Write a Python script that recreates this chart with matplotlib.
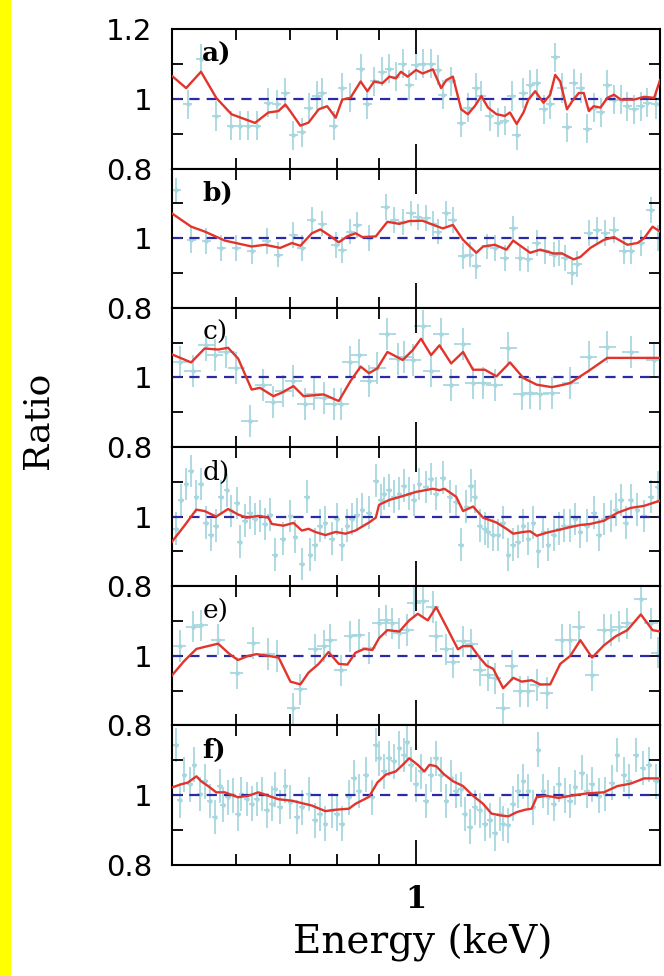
#Ratio panels a) to f)
import matplotlib
matplotlib.use("Agg")
import matplotlib.pyplot as plt
from matplotlib.ticker import NullFormatter
from matplotlib.patches import Rectangle

# ---- panel a ----
a_model_e = [0.50, 0.5205, 0.543, 0.567, 0.592, 0.633, 0.6575, 0.6765, 0.690, 0.6995,
             0.720, 0.737, 0.7585, 0.777, 0.796, 0.811, 0.830, 0.8545, 0.871, 0.888,
             0.909, 0.927, 0.944, 0.958, 0.9765, 1.0, 1.019, 1.049, 1.074, 1.090,
             1.1105, 1.137, 1.159, 1.1815, 1.204, 1.227, 1.257, 1.287, 1.306, 1.331,
             1.357, 1.376, 1.403, 1.4365, 1.464, 1.485, 1.5065, 1.5355, 1.558, 1.588,
             1.6105, 1.634, 1.657, 1.689, 1.722, 1.755, 1.789, 1.858, 1.912, 1.967, 2.0]
a_model_r = [1.066, 1.031, 1.078, 1.003, 0.956, 0.931, 0.961, 0.965, 0.984, 0.965,
             0.923, 0.932, 0.970, 0.979, 0.946, 0.998, 1.003, 1.050, 1.022, 1.050,
             1.045, 1.064, 1.059, 1.078, 1.064, 1.083, 1.073, 1.085, 1.031, 1.054,
             1.064, 0.970, 0.956, 0.979, 1.008, 0.975, 0.956, 0.951, 0.961, 0.928,
             0.961, 0.998, 1.022, 0.989, 1.012, 1.069, 1.050, 0.970, 0.993, 1.017,
             1.017, 0.965, 0.979, 0.975, 1.003, 1.012, 0.998, 0.998, 1.006, 1.003, 1.054]
a_data_e = [0.523, 0.543, 0.567, 0.592, 0.606, 0.621, 0.636, 0.6575, 0.673, 0.690,
            0.706, 0.723, 0.737, 0.755, 0.766, 0.792, 0.811, 0.830, 0.8545, 0.871,
            0.888, 0.909, 0.927, 0.944, 0.963, 0.981, 1.0, 1.019, 1.044, 1.064,
            1.079, 1.105, 1.137, 1.159, 1.187, 1.204, 1.233, 1.263, 1.287, 1.312,
            1.331, 1.357, 1.383, 1.409, 1.4365, 1.464, 1.485, 1.514, 1.5355, 1.565,
            1.596, 1.626, 1.657, 1.689, 1.722, 1.755, 1.789, 1.823, 1.858, 1.894,
            1.930, 1.977]
a_data_r = [0.984, 1.115, 0.951, 0.923, 0.923, 0.923, 0.923, 0.989, 0.984, 1.017,
            0.895, 0.904, 0.975, 1.008, 1.017, 0.923, 1.031, 1.003, 1.087, 0.984,
            1.050, 1.078, 1.087, 1.064, 1.101, 1.040, 1.097, 1.101, 1.101, 1.083,
            1.012, 1.050, 0.932, 0.975, 1.031, 1.008, 0.951, 0.932, 0.937, 1.008,
            0.895, 1.017, 1.040, 1.045, 0.970, 0.984, 1.120, 1.031, 0.918, 1.045,
            1.031, 0.914, 0.975, 0.961, 1.040, 0.998, 0.998, 0.979, 0.970, 0.979,
            0.989, 0.984]
a_err = 0.042
a_bin = 0.013

# ---- panel b ----
b_model_e = [0.50, 0.528, 0.5486, 0.581, 0.627, 0.651, 0.680, 0.703, 0.720, 0.744,
             0.762, 0.7805, 0.803, 0.8225, 0.8424, 0.8586, 0.892, 0.922, 0.9535, 0.981,
             1.019, 1.059, 1.079, 1.1105, 1.143, 1.187, 1.210, 1.251, 1.293, 1.318,
             1.383, 1.423, 1.478, 1.514, 1.565, 1.595, 1.641, 1.705, 1.755, 1.823,
             1.876, 1.912, 1.958, 2.0]
b_model_r = [1.071, 1.033, 1.019, 0.993, 0.976, 0.981, 0.972, 0.986, 0.978, 1.014,
             1.025, 1.009, 0.988, 1.005, 1.014, 1.003, 1.005, 1.047, 1.041, 1.049,
             1.050, 1.035, 1.028, 1.038, 0.995, 0.958, 0.976, 0.981, 0.967, 0.993,
             0.958, 0.967, 0.956, 0.956, 0.939, 0.946, 0.972, 0.995, 1.003, 0.981,
             0.986, 1.0, 1.033, 1.019]
b_data_e = [0.506, 0.528, 0.551, 0.575, 0.6005, 0.627, 0.654, 0.6765, 0.706, 0.723,
            0.744, 0.766, 0.796, 0.811, 0.830, 0.846, 0.875, 0.918, 0.940, 0.963,
            0.986, 1.005, 1.029, 1.049, 1.064, 1.090, 1.1105, 1.143, 1.165, 1.187,
            1.222, 1.251, 1.287, 1.318, 1.344, 1.376, 1.409, 1.443, 1.478, 1.499,
            1.528, 1.558, 1.580, 1.634, 1.673, 1.713, 1.755, 1.806, 1.840, 1.894,
            1.949, 1.99]
b_data_r = [1.137, 0.995, 0.991, 0.972, 0.972, 0.962, 0.991, 0.953, 1.009, 0.972,
            1.052, 1.042, 0.981, 0.967, 1.019, 1.038, 1.0, 1.090, 1.052, 1.047,
            1.071, 1.061, 1.057, 1.042, 1.019, 1.071, 1.052, 0.948, 0.953, 0.920,
            0.976, 0.972, 0.943, 1.028, 0.943, 0.939, 0.986, 0.962, 0.953, 0.958,
            0.943, 0.901, 0.925, 1.014, 1.024, 1.014, 1.024, 0.962, 0.962, 0.986,
            1.080, 1.0]
b_err = 0.037
b_bin = 0.013

# ---- panel c ----
c_model_e = [0.50, 0.528, 0.5486, 0.570, 0.5864, 0.6034, 0.627, 0.642, 0.667, 0.683,
             0.706, 0.7267, 0.7513, 0.7694, 0.803, 0.830, 0.8545, 0.875, 0.896, 0.922,
             0.963, 0.9905, 1.0144, 1.0438, 1.069, 1.105, 1.143, 1.176, 1.216, 1.257,
             1.306, 1.357, 1.409, 1.471, 1.521, 1.550, 1.641, 1.722, 2.0]
c_model_r = [1.066, 1.043, 1.083, 1.080, 1.085, 1.054, 0.965, 0.970, 0.946, 0.956,
             0.975, 0.946, 0.949, 0.951, 0.932, 0.989, 1.031, 1.012, 1.026, 1.073,
             1.050, 1.078, 1.111, 1.064, 1.092, 1.040, 1.073, 1.022, 1.022, 1.003,
             1.043, 0.998, 0.979, 0.972, 0.979, 0.984, 1.022, 1.056, 1.056]
c_data_e = [0.511, 0.5306, 0.551, 0.5645, 0.5836, 0.6005, 0.624, 0.648, 0.667, 0.686,
            0.706, 0.730, 0.748, 0.769, 0.792, 0.807, 0.830, 0.850, 0.875, 0.896,
            0.922, 0.949, 0.967, 0.9905, 1.019, 1.044, 1.074, 1.105, 1.143, 1.176,
            1.210, 1.251, 1.300, 1.350, 1.383, 1.423, 1.471, 1.550, 1.634, 1.722,
            1.840, 1.967]
c_data_r = [1.045, 1.017, 1.092, 1.064, 1.073, 1.026, 0.876, 0.979, 0.928, 0.961,
            0.989, 0.923, 0.951, 0.942, 0.923, 0.923, 1.045, 1.064, 0.989, 1.026,
            1.125, 1.054, 1.059, 1.050, 1.148, 1.017, 1.125, 0.979, 1.097, 0.984,
            0.984, 0.979, 1.083, 0.951, 0.956, 0.951, 0.956, 0.984, 1.059, 1.087,
            1.073, 1.050]
c_err = 0.046
c_bin = 0.024

# ---- panel d ----
d_model_e = [0.50, 0.518, 0.5357, 0.5486, 0.567, 0.5864, 0.6034, 0.618, 0.639, 0.6575,
             0.664, 0.686, 0.706, 0.723, 0.737, 0.751, 0.773, 0.796, 0.8186, 0.842,
             0.875, 0.892, 0.9005, 0.927, 0.963, 1.0, 1.049, 1.069, 1.0844, 1.121,
             1.143, 1.176, 1.210, 1.257, 1.293, 1.318, 1.357, 1.383, 1.409, 1.450,
             1.5065, 1.550, 1.595, 1.641, 1.705, 1.772, 1.840, 1.912, 2.0]
d_model_r = [0.928, 0.974, 1.020, 1.016, 1.0, 1.022, 1.006, 0.997, 1.002, 0.997,
             0.979, 0.974, 0.982, 0.960, 0.965, 0.956, 0.947, 0.956, 0.951, 0.960,
             0.983, 0.997, 1.034, 1.048, 1.059, 1.071, 1.080, 1.076, 1.080, 1.057,
             1.016, 1.029, 0.997, 0.983, 0.965, 0.951, 0.956, 0.958, 0.945, 0.954,
             0.963, 0.970, 0.976, 0.979, 0.988, 1.011, 1.025, 1.031, 1.046]
d_data_e = [0.506, 0.513, 0.521, 0.528, 0.536, 0.543, 0.551, 0.559, 0.567, 0.575,
            0.584, 0.592, 0.601, 0.606, 0.615, 0.624, 0.633, 0.642, 0.651, 0.661,
            0.670, 0.686, 0.700, 0.710, 0.723, 0.734, 0.741, 0.751, 0.762, 0.773,
            0.788, 0.799, 0.811, 0.823, 0.834, 0.846, 0.859, 0.875, 0.892, 0.905,
            0.913, 0.927, 0.940, 0.954, 0.967, 0.981, 0.995, 1.010, 1.029, 1.044,
            1.059, 1.079, 1.100, 1.121, 1.137, 1.154, 1.170, 1.181, 1.198, 1.216,
            1.227, 1.245, 1.263, 1.281, 1.300, 1.318, 1.337, 1.357, 1.376, 1.396,
            1.416, 1.436, 1.457, 1.478, 1.499, 1.521, 1.550, 1.573, 1.595, 1.626,
            1.657, 1.681, 1.705, 1.738, 1.763, 1.789, 1.814, 1.840, 1.876, 1.912,
            1.949, 1.986]
d_data_r = [0.965, 1.048, 1.094, 1.131, 1.057, 1.094, 0.983, 0.947, 0.974, 1.057,
            1.076, 1.016, 1.039, 0.928, 0.988, 1.011, 0.993, 1.002, 0.979, 1.006,
            0.891, 0.937, 1.002, 0.942, 0.864, 1.057, 0.891, 0.919, 0.974, 0.983,
            0.937, 0.993, 0.919, 0.974, 0.993, 1.006, 1.020, 1.011, 1.103, 1.048,
            1.066, 1.076, 1.057, 1.066, 1.089, 1.066, 1.048, 1.094, 1.085, 1.108,
            1.066, 1.112, 1.057, 1.043, 0.919, 1.029, 1.089, 1.057, 0.974, 0.965,
            0.956, 0.947, 0.947, 0.983, 0.891, 0.919, 0.928, 0.974, 0.937, 0.983,
            0.900, 0.956, 0.919, 0.947, 0.965, 0.974, 0.974, 0.993, 0.956, 0.974,
            1.011, 0.947, 0.993, 1.002, 1.020, 1.048, 0.983, 1.048, 1.020, 1.002,
            1.057, 1.085]
d_err = 0.047
d_bin = 0.008

# ---- panel e ----
e_model_e = [0.50, 0.518, 0.536, 0.549, 0.570, 0.589, 0.603, 0.621, 0.636, 0.6575,
             0.677, 0.700, 0.720, 0.737, 0.7585, 0.780, 0.803, 0.823, 0.842, 0.863,
             0.8835, 0.9005, 0.922, 0.954, 0.981, 1.005, 1.034, 1.059, 1.090, 1.1265,
             1.143, 1.170, 1.198, 1.222, 1.245, 1.281, 1.318, 1.350, 1.389, 1.423,
             1.464, 1.5065, 1.550, 1.595, 1.649, 1.705, 1.763, 1.823, 1.894, 1.958, 2.0]
e_model_r = [0.944, 0.986, 1.020, 1.026, 1.035, 1.005, 0.988, 1.0, 1.005, 1.0,
             0.995, 0.926, 0.918, 0.952, 0.977, 1.011, 0.977, 0.975, 1.009, 1.020,
             1.017, 1.051, 1.074, 1.070, 1.102, 1.121, 1.102, 1.140, 1.084, 1.019,
             1.028, 1.028, 0.995, 0.972, 0.963, 0.907, 0.937, 0.926, 0.930, 0.918,
             0.918, 0.977, 1.0, 1.045, 0.995, 1.030, 1.056, 1.074, 1.119, 1.074, 1.070]
e_data_e = [0.511, 0.531, 0.543, 0.570, 0.601, 0.630, 0.6575, 0.673, 0.706, 0.720,
            0.751, 0.769, 0.784, 0.807, 0.830, 0.850, 0.875, 0.9005, 0.918, 0.935,
            0.954, 0.976, 0.995, 1.019, 1.049, 1.059, 1.090, 1.1105, 1.143, 1.170,
            1.198, 1.227, 1.251, 1.281, 1.312, 1.344, 1.376, 1.409, 1.450, 1.514,
            1.550, 1.588, 1.649, 1.705, 1.738, 1.780, 1.823, 1.894, 1.949, 1.986]
e_data_r = [1.028, 1.084, 1.088, 1.047, 0.951, 1.037, 1.005, 1.0, 0.849, 0.904,
            1.019, 1.028, 1.047, 0.958, 1.056, 1.060, 1.023, 1.093, 1.102, 1.093,
            1.065, 1.074, 1.153, 1.158, 1.140, 1.056, 1.019, 0.981, 1.042, 1.033,
            0.958, 0.944, 0.935, 0.849, 0.972, 0.898, 0.898, 0.916, 0.893, 1.047,
            1.047, 1.084, 0.944, 1.074, 1.074, 1.084, 1.093, 1.163, 1.093, 1.009]
e_err = 0.045
e_bin = 0.019

# ---- panel f ----
f_model_e = [0.50, 0.513, 0.523, 0.536, 0.543, 0.554, 0.567, 0.581, 0.603, 0.621,
             0.639, 0.6575, 0.677, 0.703, 0.723, 0.744, 0.773, 0.796, 0.8265, 0.842,
             0.875, 0.896, 0.918, 0.944, 0.963, 0.981, 1.005, 1.024, 1.039, 1.059,
             1.084, 1.1105, 1.143, 1.176, 1.210, 1.239, 1.269, 1.300, 1.331, 1.363,
             1.389, 1.409, 1.450, 1.499, 1.550, 1.626, 1.705, 1.772, 1.840, 1.912, 2.0]
f_model_r = [1.022, 1.031, 1.036, 1.054, 1.040, 1.026, 1.008, 1.008, 0.994, 0.998,
             1.008, 0.998, 0.988, 0.984, 0.977, 0.970, 0.954, 0.958, 0.961, 0.975,
             0.995, 1.036, 1.059, 1.068, 1.087, 1.106, 1.087, 1.068, 1.087, 1.083,
             1.059, 1.040, 1.026, 0.998, 0.975, 0.947, 0.942, 0.939, 0.951, 0.958,
             0.961, 0.994, 0.998, 0.992, 0.998, 1.005, 1.008, 1.026, 1.033, 1.048, 1.048]
f_data_e = [0.506, 0.511, 0.518, 0.526, 0.533, 0.541, 0.549, 0.5565, 0.5645, 0.5726,
            0.578, 0.5864, 0.595, 0.603, 0.609, 0.618, 0.627, 0.636, 0.645, 0.654,
            0.664, 0.670, 0.680, 0.690, 0.700, 0.713, 0.723, 0.737, 0.751, 0.762,
            0.773, 0.788, 0.799, 0.811, 0.8265, 0.838, 0.850, 0.867, 0.8835, 0.892,
            0.9005, 0.913, 0.927, 0.940, 0.954, 0.967, 0.976, 0.986, 1.0, 1.014,
            1.029, 1.044, 1.059, 1.074, 1.090, 1.105, 1.121, 1.137, 1.148, 1.165,
            1.181, 1.198, 1.216, 1.233, 1.251, 1.269, 1.281, 1.300, 1.318, 1.337,
            1.357, 1.376, 1.396, 1.416, 1.436, 1.457, 1.478, 1.499, 1.528, 1.550,
            1.573, 1.603, 1.626, 1.649, 1.681, 1.713, 1.746, 1.772, 1.806, 1.832,
            1.867, 1.903, 1.940, 1.977]
f_data_r = [1.144, 0.985, 1.059, 1.031, 1.087, 1.003, 1.040, 0.983, 0.937, 1.026,
            0.972, 0.994, 0.999, 0.946, 1.003, 0.989, 0.975, 0.989, 1.003, 0.956,
            0.975, 1.017, 0.966, 1.026, 0.980, 0.937, 0.965, 1.003, 0.928, 0.947,
            0.918, 0.956, 0.947, 0.918, 0.994, 1.050, 1.012, 1.059, 0.994, 1.144,
            1.106, 1.068, 1.106, 1.097, 1.134, 1.115, 1.153, 1.087, 1.031, 1.068,
            0.983, 1.059, 1.106, 1.059, 0.983, 1.050, 1.012, 1.017, 0.946, 0.909,
            0.965, 0.956, 0.918, 0.928, 0.890, 0.946, 0.918, 0.913, 0.975, 1.012,
            1.040, 1.012, 0.965, 1.130, 1.012, 0.994, 0.975, 1.031, 0.998, 0.983,
            1.022, 1.064, 1.012, 1.031, 0.998, 1.003, 1.036, 1.115, 1.059, 1.040,
            1.115, 1.078, 1.087, 1.040]
f_err = 0.05
f_bin = 0.008

panel_labels = ["a)", "b)", "c)", "d)", "e)", "f)"]
label_weights = ["bold", "bold", "normal", "normal", "normal", "bold"]

DATA_COLOR = "#a6d6de"
MODEL_COLOR = "#e3342c"
UNITY_COLOR = "#2a2aa6"


def draw_panel(ax, data_e, data_r, err, bin_frac, model_e, model_r, label, weight):
    """One ratio panel: data crosses, unity line, model"""
    xerr = [e * bin_frac for e in data_e]
    ax.errorbar(data_e, data_r, yerr=err, xerr=xerr, fmt="o", ms=2.2,
                color=DATA_COLOR, ecolor=DATA_COLOR, elinewidth=1.25,
                capsize=0, zorder=1)
    ax.axhline(1.0, color=UNITY_COLOR, lw=1.6, ls=(0, (4.6, 3.2)), zorder=2)
    ax.plot(model_e, model_r, color=MODEL_COLOR, lw=1.7, zorder=3)
    ax.text(0.062, 0.82, label, transform=ax.transAxes, ha="left", va="center",
            fontsize=19, fontweight=weight, family="DejaVu Serif", zorder=4)


fig, axes = plt.subplots(6, 1, sharex=True, figsize=(6.64, 9.76), dpi=100)
fig.subplots_adjust(left=0.259, right=0.994, top=0.970, bottom=0.114, hspace=0)

# yellow strip on the left edge
fig.add_artist(Rectangle((0, 0), 11 / 664, 1, transform=fig.transFigure,
                         facecolor="#ffff00", edgecolor="none"))

panels = [
    (a_data_e, a_data_r, a_err, a_bin, a_model_e, a_model_r),
    (b_data_e, b_data_r, b_err, b_bin, b_model_e, b_model_r),
    (c_data_e, c_data_r, c_err, c_bin, c_model_e, c_model_r),
    (d_data_e, d_data_r, d_err, d_bin, d_model_e, d_model_r),
    (e_data_e, e_data_r, e_err, e_bin, e_model_e, e_model_r),
    (f_data_e, f_data_r, f_err, f_bin, f_model_e, f_model_r),
]

for i, ax in enumerate(axes):
    draw_panel(ax, *panels[i], panel_labels[i], label_weights[i])
    ax.set_xscale("log")
    ax.set_xlim(0.5, 2.0)
    ax.set_ylim(0.8, 1.2)
    ax.set_yticks([0.8, 1.0, 1.2])
    if i == 0:
        ax.set_yticklabels(["0.8", "1", "1.2"])
    else:
        ax.set_yticklabels(["0.8", "1", ""])
    ax.set_yticks([0.9, 1.1], minor=True)
    ax.set_xticks([1.0])
    ax.set_xticks([0.6, 0.7, 0.8, 0.9], minor=True)
    ax.xaxis.set_minor_formatter(NullFormatter())
    ax.tick_params(which="both", direction="in", top=True, right=True, width=1.3)
    ax.tick_params(axis="x", which="major", length=18)
    ax.tick_params(axis="x", which="minor", length=8)
    ax.tick_params(axis="y", which="both", length=8)
    ax.tick_params(axis="y", labelsize=21, pad=14)
    for s in ax.spines.values():
        s.set_linewidth(1.5)

axes[-1].set_xticklabels(["1"], fontsize=22, fontweight="bold", family="DejaVu Serif")
axes[-1].tick_params(axis="x", which="major", pad=14)

fig.text(0.056, 0.569, "Ratio", rotation=90, ha="center", va="center",
         fontsize=26, family="DejaVu Serif")
fig.text(0.636, 0.034, "Energy (keV)", ha="center", va="center",
         fontsize=28, family="DejaVu Serif")

fig.savefig("out.png", dpi=100)
